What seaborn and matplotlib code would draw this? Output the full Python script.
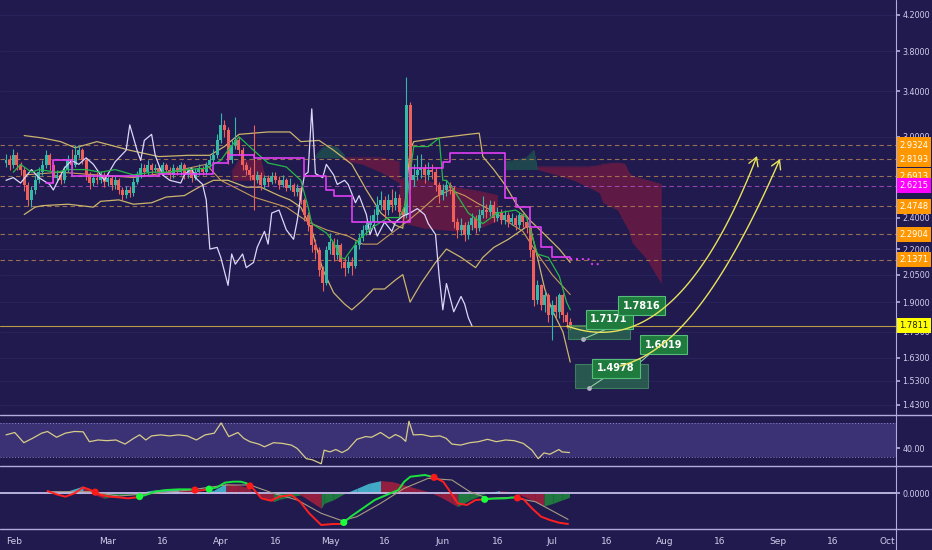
import numpy as np
import pandas as pd
import matplotlib
matplotlib.use('Agg')
import matplotlib.pyplot as plt
import matplotlib.transforms as mtransforms
from matplotlib.path import Path
from matplotlib.patches import FancyArrowPatch, Rectangle
from matplotlib.lines import Line2D
from matplotlib.ticker import NullLocator, NullFormatter
import seaborn as sns

# ---- daily candles, day 0 = Feb 1 ----
close = [2.814, 2.775, 2.853, 2.775, 2.737, 2.626, 2.520, 2.590, 2.662, 2.722,
         2.775, 2.853, 2.775, 2.677, 2.699, 2.662, 2.737, 2.814, 2.775, 2.853,
         2.893, 2.814, 2.699, 2.640, 2.677, 2.662, 2.699, 2.648, 2.677, 2.626,
         2.662, 2.590, 2.554, 2.590, 2.569, 2.648, 2.699, 2.752, 2.722, 2.775,
         2.737, 2.752, 2.722, 2.775, 2.737, 2.699, 2.752, 2.722, 2.775, 2.699,
         2.737, 2.677, 2.722, 2.752, 2.722, 2.775, 2.814, 2.853, 2.974, 3.100,
         3.057, 2.814, 2.932, 2.974, 2.893, 2.775, 2.737, 2.699, 2.662, 2.699,
         2.626, 2.677, 2.648, 2.692, 2.662, 2.626, 2.662, 2.605, 2.626, 2.576,
         2.605, 2.520, 2.418, 2.352, 2.225, 2.195, 2.077, 2.003, 2.195, 2.244,
         2.165, 2.225, 2.124, 2.089, 2.124, 2.101, 2.225, 2.269, 2.319, 2.352,
         2.371, 2.418, 2.485, 2.520, 2.451, 2.520, 2.485, 2.533, 2.438, 2.418,
         3.276, 2.662, 2.699, 2.737, 2.752, 2.699, 2.737, 2.722, 2.626, 2.554,
         2.590, 2.626, 2.605, 2.371, 2.319, 2.352, 2.288, 2.352, 2.398, 2.332,
         2.418, 2.451, 2.438, 2.485, 2.398, 2.438, 2.384, 2.418, 2.371, 2.398,
         2.352, 2.418, 2.371, 2.332, 2.195, 1.911, 1.993, 1.885, 1.938, 1.834,
         1.885, 1.849, 1.938, 1.834, 1.799, 1.781]
high = [2.86, 2.85, 2.90, 2.88, 2.80, 2.76, 2.65, 2.62, 2.70, 2.76,
        2.81, 2.89, 2.87, 2.80, 2.74, 2.73, 2.77, 2.85, 2.90, 2.93,
        2.93, 2.91, 2.83, 2.72, 2.71, 2.72, 2.73, 2.72, 2.71, 2.70,
        2.69, 2.68, 2.61, 2.62, 2.62, 2.68, 2.73, 2.79, 2.78, 2.81,
        2.79, 2.78, 2.77, 2.80, 2.79, 2.76, 2.78, 2.77, 2.80, 2.79,
        2.76, 2.75, 2.75, 2.78, 2.77, 2.80, 2.85, 2.90, 3.02, 3.20,
        3.14, 3.08, 2.97, 3.17, 3.00, 2.92, 2.80, 2.76, 3.10, 2.73,
        2.72, 2.70, 2.70, 2.72, 2.72, 2.69, 2.70, 2.68, 2.68, 2.64,
        2.63, 2.62, 2.53, 2.44, 2.37, 2.26, 2.21, 2.10, 2.22, 2.30,
        2.27, 2.26, 2.24, 2.15, 2.16, 2.15, 2.25, 2.30, 2.35, 2.38,
        2.42, 2.46, 2.55, 2.58, 2.55, 2.56, 2.60, 2.58, 2.56, 2.47,
        3.54, 3.30, 2.78, 2.85, 2.86, 2.78, 2.80, 2.78, 2.75, 2.65,
        2.63, 2.66, 2.65, 2.62, 2.40, 2.40, 2.37, 2.38, 2.43, 2.42,
        2.46, 2.55, 2.49, 2.52, 2.51, 2.47, 2.46, 2.45, 2.44, 2.43,
        2.42, 2.44, 2.43, 2.39, 2.35, 2.21, 2.02, 2.00, 1.96, 1.95,
        1.91, 1.93, 1.95, 1.95, 1.85, 1.82]
low = [2.76, 2.74, 2.75, 2.74, 2.70, 2.58, 2.48, 2.47, 2.56, 2.64,
       2.70, 2.75, 2.74, 2.64, 2.65, 2.63, 2.64, 2.72, 2.75, 2.76,
       2.83, 2.78, 2.66, 2.60, 2.62, 2.63, 2.64, 2.61, 2.62, 2.59,
       2.60, 2.56, 2.52, 2.53, 2.54, 2.55, 2.63, 2.68, 2.70, 2.70,
       2.71, 2.72, 2.70, 2.70, 2.71, 2.67, 2.68, 2.70, 2.70, 2.67,
       2.68, 2.65, 2.66, 2.70, 2.70, 2.70, 2.76, 2.79, 2.83, 2.95,
       3.00, 2.78, 2.79, 2.90, 2.85, 2.74, 2.70, 2.66, 2.45, 2.64,
       2.59, 2.60, 2.62, 2.63, 2.64, 2.60, 2.61, 2.58, 2.59, 2.55,
       2.55, 2.49, 2.38, 2.31, 2.18, 2.14, 2.04, 1.96, 1.99, 2.17,
       2.13, 2.14, 2.09, 2.04, 2.06, 2.05, 2.09, 2.20, 2.25, 2.29,
       2.32, 2.35, 2.38, 2.45, 2.40, 2.42, 2.44, 2.45, 2.40, 2.37,
       2.40, 2.60, 2.62, 2.66, 2.68, 2.64, 2.66, 2.67, 2.58, 2.50,
       2.52, 2.55, 2.56, 2.33, 2.27, 2.29, 2.25, 2.26, 2.32, 2.30,
       2.31, 2.40, 2.40, 2.41, 2.37, 2.38, 2.36, 2.36, 2.34, 2.35,
       2.32, 2.33, 2.34, 2.30, 2.15, 1.88, 1.89, 1.86, 1.85, 1.80,
       1.71, 1.82, 1.82, 1.80, 1.77, 1.76]
first_open = 2.79

# ---- overlays (day, price) ----
bb_up_days = [5, 10, 15, 19, 25, 34, 42, 50, 56, 60, 64, 72, 78, 81, 86, 90, 95, 99, 103, 107, 109,
              111, 112, 119, 127, 130, 131, 134, 137, 140, 144, 148, 152, 155]
bb_up = [3.01, 2.99, 2.96, 2.91, 2.96, 2.89, 2.84, 2.85, 2.85, 2.92, 3.02, 3.04, 3.04, 2.96, 2.97, 2.89,
         2.78, 2.59, 2.43, 2.35, 2.33, 2.89, 2.96, 2.99, 3.02, 3.03, 2.84, 2.74, 2.63, 2.50, 2.38, 2.29,
         2.20, 2.12]
bb_lo_days = [5, 8, 10, 17, 24, 26, 31, 35, 40, 44, 49, 53, 57, 61, 66, 70, 75, 78, 81, 84, 87, 90, 93,
              95, 98, 101, 104, 107, 109, 111, 114, 118, 121, 125, 129, 131, 134, 138, 143, 144, 146,
              148, 150, 153, 155]
bb_lo = [2.42, 2.47, 2.48, 2.49, 2.47, 2.51, 2.52, 2.49, 2.50, 2.54, 2.55, 2.61, 2.66, 2.66, 2.61, 2.61,
         2.55, 2.52, 2.47, 2.32, 2.08, 1.95, 1.89, 1.86, 1.91, 1.97, 1.97, 2.02, 2.05, 1.90, 2.00, 2.12,
         2.20, 2.15, 2.09, 2.15, 2.21, 2.26, 2.34, 2.34, 2.15, 1.97, 1.86, 1.75, 1.61]
bb_mid_days = [5, 15, 25, 35, 45, 55, 59, 68, 77, 83, 88, 94, 98, 102, 106, 110, 114, 118, 122, 126,
               130, 134, 138, 142, 146, 150, 155]
bb_mid = [2.70, 2.72, 2.70, 2.68, 2.72, 2.78, 2.66, 2.54, 2.47, 2.37, 2.32, 2.28, 2.23, 2.23, 2.30, 2.37,
          2.45, 2.54, 2.59, 2.55, 2.49, 2.44, 2.37, 2.31, 2.17, 2.05, 1.94]
tenkan_days = [2, 4, 7, 9, 14, 17, 22, 26, 30, 35, 40, 44, 50, 55, 59, 61, 64, 68, 72, 77, 81, 83, 84,
               88, 90, 92, 93, 95, 97, 101, 105, 108, 110, 112, 116, 119, 120, 121, 123, 127, 131, 135,
               140, 143, 146, 149, 152, 154, 155]
tenkan = [2.72, 2.78, 2.72, 2.74, 2.72, 2.74, 2.74, 2.72, 2.74, 2.70, 2.72, 2.72, 2.74, 2.75, 2.81, 2.89,
          3.00, 2.89, 2.79, 2.76, 2.66, 2.47, 2.36, 2.30, 2.24, 2.15, 2.14, 2.20, 2.26, 2.34, 2.40, 2.40,
          2.50, 2.92, 2.92, 2.99, 2.66, 2.66, 2.59, 2.43, 2.36, 2.43, 2.45, 2.40, 2.17, 2.15, 2.04, 1.90,
          1.86]
kijun_days = [11, 13, 18, 42, 57, 61, 68, 82, 88, 90, 95, 111, 120, 122, 137, 140, 144, 147, 150, 155]
kijun = [2.64, 2.81, 2.69, 2.71, 2.79, 2.85, 2.83, 2.69, 2.59, 2.55, 2.37, 2.75, 2.80, 2.87, 2.53, 2.47,
         2.34, 2.21, 2.15, 2.14]
kijun_fwd_days = [155, 158, 160, 161, 163]
kijun_fwd = [2.14, 2.14, 2.14, 2.11, 2.11]
lav_days = [0, 2, 4, 7, 9, 12, 13, 16, 18, 20, 22, 24, 27, 30, 33, 34, 36, 37, 38, 40, 41, 43, 45, 48,
            49, 51, 52, 54, 55, 56, 58, 59, 61, 62, 63, 65, 66, 68, 69, 71, 72, 73, 75, 77, 79, 80, 81,
            82, 83, 84, 85, 87, 88, 90, 91, 93, 94, 96, 97, 99, 100, 101, 102, 104, 106, 107, 109, 111,
            113, 115, 116, 118, 119, 120, 121, 123, 125, 126, 127, 128]
lav = [2.66, 2.68, 2.64, 2.74, 2.68, 2.63, 2.59, 2.75, 2.81, 2.78, 2.83, 2.78, 2.66, 2.80, 2.89, 3.10,
       2.89, 2.81, 2.97, 3.02, 2.85, 2.70, 2.66, 2.64, 2.70, 2.75, 2.68, 2.63, 2.52, 2.20, 2.21, 2.15,
       1.99, 2.17, 2.11, 2.17, 2.09, 2.12, 2.21, 2.31, 2.23, 2.43, 2.45, 2.32, 2.26, 2.38, 2.55, 2.70,
       2.72, 3.24, 2.71, 2.68, 2.78, 2.70, 2.63, 2.66, 2.63, 2.50, 2.55, 2.42, 2.29, 2.35, 2.28, 2.37,
       2.31, 2.37, 2.41, 2.43, 2.46, 2.42, 2.36, 2.29, 2.04, 1.86, 2.00, 1.85, 1.93, 1.89, 1.82, 1.78]

# ---- cloud patches (day, top, bottom) ----
clouds = [
    ('red', [62, 64, 70, 71], [2.72, 2.81, 2.81, 2.70], [2.66, 2.66, 2.66, 2.68]),
    ('green', [85, 87, 89, 91, 93], [2.84, 2.91, 2.93, 2.91, 2.85], [2.83, 2.83, 2.83, 2.83, 2.83]),
    ('red', [93, 98, 103, 108], [2.83, 2.83, 2.83, 2.80], [2.81, 2.78, 2.72, 2.64]),
    ('red', [108, 110, 115, 120, 125, 130, 135], [2.66, 2.68, 2.66, 2.62, 2.60, 2.58, 2.55],
     [2.40, 2.36, 2.33, 2.32, 2.31, 2.33, 2.38]),
    ('green', [137, 140, 143, 145, 146], [2.80, 2.81, 2.83, 2.89, 2.74], [2.74, 2.74, 2.74, 2.74, 2.74]),
    ('red', [146, 150, 156, 160, 163, 164, 168, 170, 171, 172, 176, 180],
     [2.76, 2.76, 2.76, 2.76, 2.77, 2.78, 2.79, 2.78, 2.72, 2.69, 2.66, 2.63],
     [2.74, 2.71, 2.66, 2.61, 2.57, 2.50, 2.45, 2.36, 2.32, 2.24, 2.14, 2.00]),
]

levels = [2.9324, 2.8193, 2.6913, 2.6215, 2.4748, 2.2904, 2.1371]
level_colors = ['#ff9800', '#ff9800', '#ff9800', '#ff00ff', '#ff9800', '#ff9800', '#ff9800']
last_price = 1.7811
price_ticks = [4.2, 3.8, 3.4, 3.0, 2.4, 2.2, 2.05, 1.9, 1.75, 1.63, 1.53, 1.43]

# ---- RSI ----
rsi_days = [0, 2.4, 4.9, 7.3, 9.8, 11.4, 13.9, 16.3, 18.8, 21.2, 22.9, 25.3, 27.7, 30.2, 32.7, 35.1,
            36.7, 38.4, 40, 42.5, 44.9, 47.4, 49.8, 52.3, 54.7, 57.2, 59.1, 61.2, 63.7, 65.3, 67, 69.4,
            71, 73.5, 75.9, 78.4, 80, 82.5, 84.1, 86.6, 87.4, 89, 90.6, 92.3, 93.9, 96.4, 98.8, 100.4,
            102.9, 105.3, 107, 108.6, 109.8, 110.7, 111.9, 114.3, 116.8, 119.2, 120.9, 122.5, 124.9,
            127.4, 129.8, 132.3, 134.7, 137.2, 139.6, 142.1, 144.5, 146.2, 147.8, 149.4, 151.9, 152.7,
            154.8]
rsi_vals = [56, 58.8, 46.8, 52, 58, 60, 53.2, 58, 60, 59.6, 48, 50, 49.2, 50, 45.2, 52, 56, 50, 54.8,
            56, 54.8, 56, 54.8, 50, 56, 58, 70, 54, 58.8, 52, 48, 45.2, 42, 46.8, 46, 44, 40, 28, 26.8,
            22, 38, 36, 38.8, 35.2, 38.8, 50.8, 54, 53.2, 58.8, 52, 56.4, 53.2, 48.4, 72, 56, 56.4, 54,
            54.8, 52, 45.2, 44, 46.8, 48, 50.8, 48, 50, 49.2, 46, 38, 28, 34.8, 33.2, 38.8, 36, 35.2]

# ---- MACD ----
macd_days = [11.4, 13.9, 16.3, 18.8, 21.2, 23.7, 26.1, 28.6, 31, 33.5, 35.9, 38.4, 40.8, 44.1, 47.4,
             50.6, 53.1, 55.5, 58, 60.1, 62.4, 64.5, 66.1, 67.8, 70.2, 72.7, 75.1, 78.4, 80.8, 83.3,
             86.6, 89.8, 92.3, 94.7, 98, 101.3, 104.5, 107.8, 109.4, 111.1, 112.7, 115.1, 117.6, 120.1,
             121.7, 124.1, 126.6, 129, 131.5, 133.9, 137.2, 139.6, 142.1, 144.5, 147, 149.4, 151.9, 154.4]
macd_vals = [0.014, -0.006, -0.02, 0, 0.036, 0.016, -0.01, -0.02, -0.024, -0.03, -0.024, -0.01, 0.01,
             0.02, 0.024, 0.024, 0.016, 0.024, 0.036, 0.064, 0.07, 0.07, 0.06, 0.03, -0.03, -0.044,
             -0.02, -0.01, -0.05, -0.12, -0.19, -0.184, -0.184, -0.14, -0.09, -0.04, -0.01, 0.02, 0.07,
             0.1, 0.104, 0.11, 0.096, 0.07, 0.02, -0.06, -0.07, -0.04, -0.036, -0.032, -0.03, -0.024,
             -0.034, -0.09, -0.14, -0.16, -0.176, -0.184]
signal_days = [11.4, 22.9, 31, 40.8, 50.6, 60.4, 67, 73.5, 80, 86.6, 92.3, 96.4, 102.9, 109.4, 116,
               122.5, 127.4, 132.3, 138.8, 145.4, 154.4]
signal_vals = [0.01, 0.01, -0.016, 0, 0.02, 0.05, 0.05, 0, -0.04, -0.12, -0.164, -0.14, -0.06, 0.03,
               0.09, 0.08, 0.01, -0.03, -0.024, -0.05, -0.156]
hist_days = [11.4, 16.3, 21.2, 22.9, 24.5, 26.9, 28.6, 31, 33.5, 36.7, 39.2, 42.5, 47.4, 51.9, 53.9,
             57.2, 60.4, 63.7, 66.1, 68.6, 71, 73.5, 75.1, 78.4, 80.8, 81.7, 86.6, 87.4, 89.8, 93.1,
             96.4, 99.6, 102.9, 106.2, 109.4, 112.7, 116, 119.2, 122.5, 124.1, 127.4, 130.7, 132.3,
             135.6, 138.8, 141.3, 145.4, 147.8, 150.3, 152.7, 154.8]
hist_vals = [0, 0.01, 0.044, 0.03, -0.01, -0.03, -0.02, -0.014, -0.01, 0, 0.016, 0.024, 0.026, 0.024,
             0, 0.02, 0.06, 0.05, 0.036, 0, -0.03, -0.05, -0.036, -0.02, -0.01, -0.02, -0.09, -0.06,
             -0.04, 0, 0.03, 0.06, 0.076, 0.07, 0.05, 0.03, 0.01, -0.02, -0.06, -0.08, -0.04, -0.01,
             0.004, 0.016, 0.01, -0.01, -0.05, -0.076, -0.06, -0.04, -0.024]
cross_days = [24.5, 36.7, 51.9, 55.8, 67.0, 92.8, 117.6, 131.5, 140.5]
cross_up = [False, True, False, True, False, True, False, True, False]

month_names = ['Feb', 'Mar', '16', 'Apr', '16', 'May', '16', 'Jun', '16', 'Jul', '16',
               'Aug', '16', 'Sep', '16', 'Oct']
month_dates = ['2021-02-01', '2021-03-01', '2021-03-16', '2021-04-01', '2021-04-16', '2021-05-01',
               '2021-05-16', '2021-06-01', '2021-06-16', '2021-07-01', '2021-07-16', '2021-08-01',
               '2021-08-16', '2021-09-01', '2021-09-16', '2021-10-01']

# ---------------- style ----------------
BG = '#201a4e'
FG = '#d2cdeb'
SEP = '#b2abdc'
TEAL = '#34b8a8'
RED = '#f0605a'
TAN = '#cbb46c'

sns.set_theme(style='dark', rc={'axes.facecolor': BG, 'figure.facecolor': BG, 'axes.grid': False})
plt.rcParams['font.family'] = ['DejaVu Sans']

W, H = 932, 550
fig = plt.figure(figsize=(W / 100, H / 100), dpi=100)


def panel(top, bottom):
    return fig.add_axes([0, 1 - bottom / H, 896 / W, (bottom - top) / H])


ax = panel(0, 415)
ax_rsi = panel(416, 466)
ax_macd = panel(467, 529)
XMIN, XMAX = -1.65, 244.5
for a in (ax, ax_rsi, ax_macd):
    a.set_facecolor(BG)
    a.set_xlim(XMIN, XMAX)
    for s in a.spines.values():
        s.set_visible(False)
    a.yaxis.tick_right()
    a.tick_params(axis='y', colors=SEP, labelcolor=FG, length=3, labelsize=5.8, pad=1.5, direction='out')
    a.set_xlabel('')
    a.set_ylabel('')

# ---------------- main price panel ----------------
ax.set_yscale('log')
ax.set_ylim(1.391, 4.377)
ax.set_yticks(price_ticks)
ax.set_yticklabels([f'{v:.4f}' for v in price_ticks])
ax.yaxis.set_minor_locator(NullLocator())
ax.yaxis.set_minor_formatter(NullFormatter())
ax.set_xticks([])
for v in price_ticks:
    ax.axhline(v, color='#2a245e', lw=0.6, zorder=0)

days = np.arange(len(close))
c = np.array(close)
o = np.array([first_open] + close[:-1])
up = c >= o
cols = np.where(up, TEAL, RED)

for color, d, top, bot in clouds:
    fc = '#6a1a44' if color == 'red' else '#1f4f4f'
    ax.fill_between(d, bot, top, color=fc, alpha=0.85, lw=0, zorder=1)
    ax.plot(d, top, color=fc, lw=0.6, zorder=1)

for lv, lc in zip(levels, level_colors):
    dash_c = '#b04fc8' if lc == '#ff00ff' else '#b88552'
    ax.axhline(lv, color=dash_c, lw=0.8, ls=(0, (4, 3)), alpha=0.8, zorder=1)
ax.axhline(last_price, color='#b89a45', lw=0.8, zorder=1)

sns.lineplot(x=bb_up_days, y=bb_up, ax=ax, color=TAN, lw=0.9, zorder=2)
sns.lineplot(x=bb_lo_days, y=bb_lo, ax=ax, color=TAN, lw=0.9, zorder=2)
sns.lineplot(x=bb_mid_days, y=bb_mid, ax=ax, color='#c79a5a', lw=0.8, zorder=2)

ax.vlines(days, low, high, colors=cols, lw=0.8, zorder=3)
ax.bar(days, np.maximum(np.abs(c - o), 0.006), bottom=np.minimum(o, c), width=0.82,
       color=cols, lw=0, zorder=3)

sns.lineplot(x=lav_days, y=lav, ax=ax, color='#dcd6fa', lw=0.9, zorder=4)
sns.lineplot(x=tenkan_days, y=tenkan, ax=ax, color='#25b74a', lw=0.9, zorder=4)
sns.lineplot(x=kijun_days, y=kijun, ax=ax, color='#e23ff5', lw=1.2, drawstyle='steps-post', zorder=4)
ax.plot(kijun_fwd_days, kijun_fwd, color='#e23ff5', lw=1.4, ls=(0, (1, 2)), zorder=4)

# right-axis level tags
tag_tr = ax.get_yaxis_transform()
for lv, lc in zip(levels, level_colors):
    ax.text(1 + 3 / 896, lv, f'{lv:.4f}', transform=tag_tr, ha='left', va='center', fontsize=6,
            color='white', clip_on=False, zorder=10,
            bbox=dict(boxstyle='square,pad=0.4', fc=lc, ec='none'))
ax.text(1 + 3 / 896, last_price, f'{last_price:.4f}', transform=tag_tr, ha='left', va='center',
        fontsize=6, color='#202020', clip_on=False, zorder=10,
        bbox=dict(boxstyle='square,pad=0.4', fc='#ffff00', ec='none'))

# target zones and labels
ax.add_patch(Rectangle((154.4, 1.7171), 17.0, 1.7816 - 1.7171, fc='#2f8050', ec='#4caf6a',
                       lw=0.8, alpha=0.6, zorder=6))
ax.add_patch(Rectangle((156.3, 1.4978), 20.1, 1.6019 - 1.4978, fc='#2f8050', ec='#4caf6a',
                       lw=0.8, alpha=0.6, zorder=6))
ax.plot([158.5, 167.6, 172.0], [1.715, 1.784, 1.844], color='#8fd19e', lw=0.8, zorder=7)
ax.plot([160.2, 165.1], [1.499, 1.549], color='#8fd19e', lw=0.8, zorder=7)
ax.plot([173.6, 177.5], [1.601, 1.656], color='#8fd19e', lw=0.8, zorder=7)
ax.scatter([158.5, 167.6, 160.2, 173.6], [1.715, 1.784, 1.499, 1.601], s=6, color='#b0b0c0', zorder=8)
for txt, dx, py in [('1.7171', 165.7, 1.811), ('1.7816', 174.6, 1.882),
                    ('1.6019', 180.6, 1.690), ('1.4978', 167.6, 1.582)]:
    ax.text(dx, py, txt, ha='center', va='center', fontsize=7, fontweight='bold', color='white',
            zorder=9, bbox=dict(boxstyle='square,pad=0.5', fc='#1f7a3e', ec='#55bd77', lw=0.8))

# curved projection arrows (reference pixel coordinates)
pix = mtransforms.Affine2D().scale(1 / W, -1 / H).translate(0, 1) + fig.transFigure


def bezier(p0, p1, p2, p3, n=60):
    t = np.linspace(0, 1, n)[:, None]
    p0, p1, p2, p3 = map(np.array, (p0, p1, p2, p3))
    return (1 - t) ** 3 * p0 + 3 * (1 - t) ** 2 * t * p1 + 3 * (1 - t) * t ** 2 * p2 + t ** 3 * p3


for ctrl in [((567, 326), (620, 345), (690, 330), (757, 156)),
             ((620, 366), (660, 355), (710, 320), (780, 159))]:
    pts = bezier(*ctrl)
    arr = FancyArrowPatch(path=Path(pts), arrowstyle='->,head_length=0.6,head_width=0.35',
                          mutation_scale=10, color='#e8e35c', lw=1.0, transform=pix)
    fig.add_artist(arr)

# ---------------- RSI panel ----------------
ax_rsi.set_ylim(19.4, 78.2)
ax_rsi.axhspan(30, 70, color='#3a3274', lw=0, zorder=0)
for v in (30, 70):
    ax_rsi.axhline(v, color='#8d85c4', lw=0.7, ls=(0, (1, 2)), zorder=1)
sns.lineplot(x=rsi_days, y=rsi_vals, ax=ax_rsi, color='#d8cc88', lw=0.9, zorder=3)
ax_rsi.set_yticks([40])
ax_rsi.set_yticklabels(['40.00'])
ax_rsi.set_xticks([])
ax_rsi.set_xlabel('')

# ---------------- MACD panel ----------------
ax_macd.set_ylim(-0.214, 0.158)
ax_macd.axhline(0, color='#c3bce8', lw=1.3, zorder=2)
for i in range(len(hist_days) - 1):
    x0, x1 = hist_days[i], hist_days[i + 1]
    v0, v1 = hist_vals[i], hist_vals[i + 1]
    mid = (v0 + v1) / 2
    if v1 > v0 and mid > 0:
        fc = '#48c4dc'
    elif v1 > v0:
        fc = '#21893f'
    else:
        fc = '#a8203e'
    ax_macd.fill_between([x0, x1], [v0, v1], 0, color=fc, alpha=0.85, lw=0, zorder=1)

sns.lineplot(x=signal_days, y=signal_vals, ax=ax_macd, color='#a89a84', lw=0.8, zorder=3)
edges = [macd_days[0]] + cross_days + [macd_days[-1]]
seg_up = [False] + cross_up
for a0, a1, is_up in zip(edges[:-1], edges[1:], seg_up):
    xs = [a0] + [d for d in macd_days if a0 < d < a1] + [a1]
    ys = np.interp(xs, macd_days, macd_vals)
    ax_macd.plot(xs, ys, color='#19e33c' if is_up else '#ff2020', lw=1.4, zorder=4)
cy = np.interp(cross_days, macd_days, macd_vals)
ax_macd.scatter(cross_days, cy, s=26, c=['#19ff3c' if u else '#ff1a1a' for u in cross_up], zorder=5,
                linewidths=0)
ax_macd.set_yticks([0])
ax_macd.set_yticklabels(['0.0000'])
ax_macd.set_ylabel('')

start = pd.Timestamp('2021-02-01')
tick_days = [(pd.Timestamp(s) - start).days for s in month_dates]
ax_macd.set_xticks(tick_days)
ax_macd.set_xticklabels(month_names)
ax_macd.get_xticklabels()[0].set_horizontalalignment('left')
ax_macd.tick_params(axis='x', colors=SEP, labelcolor=FG, length=3, labelsize=6.5, pad=3, direction='out')
ax_macd.set_xlabel('')

# separators and price scale line
for yp in (415, 466, 529):
    fig.add_artist(Line2D([0, 1], [1 - yp / H] * 2, transform=fig.transFigure, color=SEP, lw=1.0))
fig.add_artist(Line2D([896 / W] * 2, [0, 1], transform=fig.transFigure, color=SEP, lw=0.8))

fig.savefig('out.png', dpi=100, facecolor=BG)
